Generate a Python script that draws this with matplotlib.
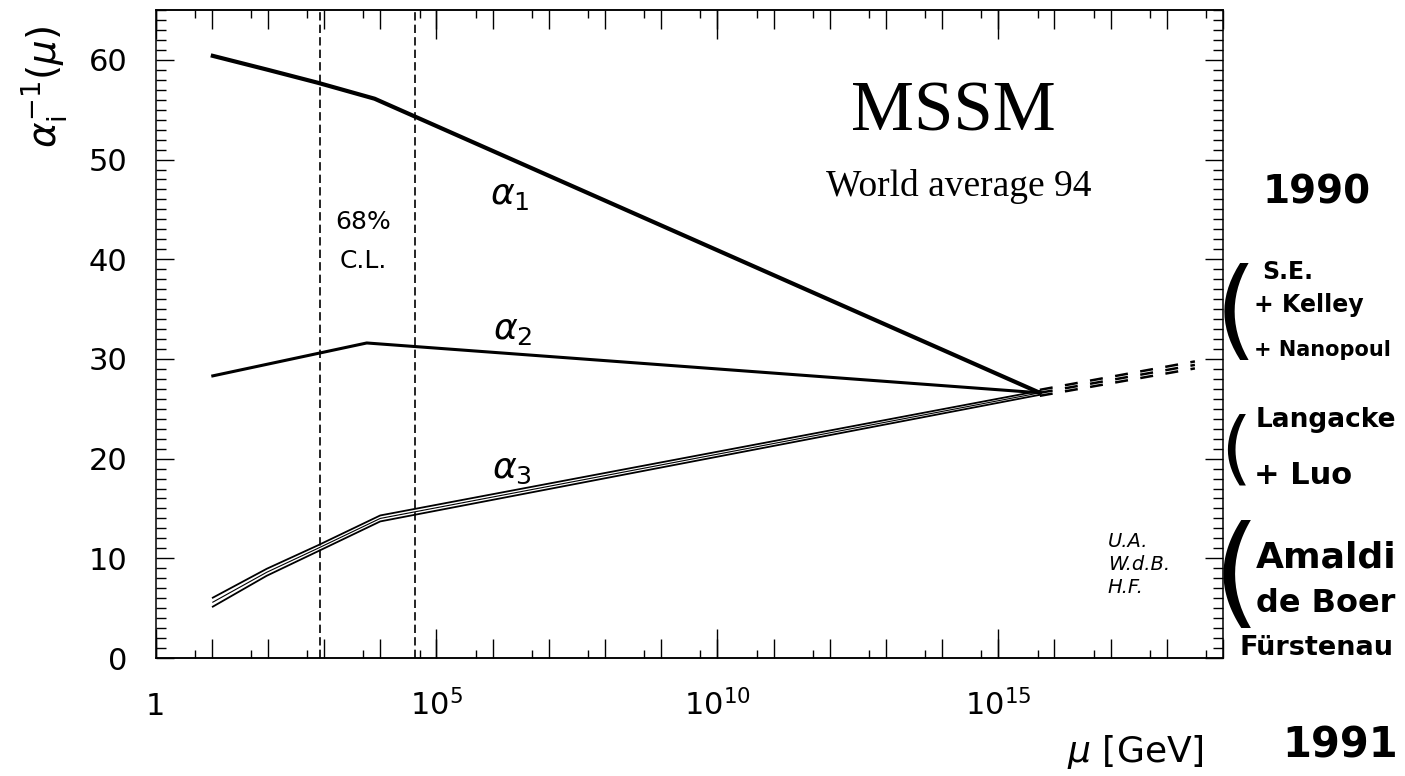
import numpy as np
import matplotlib
matplotlib.use("Agg")
import matplotlib.pyplot as plt
from matplotlib.ticker import FixedLocator, NullFormatter, MultipleLocator, LogLocator
import matplotlib.transforms as mtrans

# running couplings, x given as log10(mu / GeV)
a1_logmu = [1.02, 2.0, 2.89, 3.9, 15.74]
a1_val = [60.4, 59.0, 57.7, 56.1, 26.6]

a2_logmu = [1.02, 3.76, 15.74]
a2_val = [28.3, 31.6, 26.6]

a3_logmu = [1.02, 1.98, 2.89, 4.0, 15.74]
a3_val = [5.6, 8.6, 11.0, 14.0, 26.6]
a3_hi = [6.05, 8.95, 11.3, 14.3, 26.8]
a3_lo = [5.15, 8.25, 10.7, 13.7, 26.4]

# extrapolation above unification point
ext_logmu = [15.74, 18.5]
ext_mid = [26.6, 29.4]
ext_hi = [26.9, 29.75]
ext_lo = [26.3, 29.05]

# 68% C.L. band for the SUSY scale
cl_logmu = [2.92, 4.62]

xtick_pos = [1, 1e5, 1e10, 1e15]
xtick_lab = ['1', r'$10^{5}$', r'$10^{10}$', r'$10^{15}$']

W, H = 1405, 776
fig = plt.figure(figsize=(W / 100, H / 100), dpi=100)
ax = fig.add_axes([155.5 / W, 1 - 658 / H, (1223 - 155.5) / W, (658 - 10) / H])

def mu(lg):
    return np.power(10.0, lg)

ax.plot(mu(a1_logmu), a1_val, color='black', lw=3.0, solid_joinstyle='round')
ax.plot(mu(a2_logmu), a2_val, color='black', lw=2.2, solid_joinstyle='round')
ax.plot(mu(a3_logmu), a3_hi, color='black', lw=1.3)
ax.plot(mu(a3_logmu), a3_lo, color='black', lw=1.3)
ax.plot(mu(a3_logmu), a3_val, color='black', lw=0.8)

for ys in (ext_hi, ext_mid, ext_lo):
    ax.plot(mu(ext_logmu), ys, color='black', lw=1.8, dashes=(5.2, 5.0))

for c in cl_logmu:
    ax.axvline(mu(c), color='black', lw=1.2, dashes=(5, 2.5))

ax.set_xscale('log')
ax.set_xlim(1, 1e19)
ax.set_ylim(0, 65)

ax.xaxis.set_major_locator(FixedLocator(10.0 ** np.arange(0, 20)))
ax.xaxis.set_minor_locator(LogLocator(base=10, subs=(5,), numticks=40))
ax.xaxis.set_major_formatter(NullFormatter())
ax.xaxis.set_minor_formatter(NullFormatter())
ax.yaxis.set_major_locator(MultipleLocator(10))
ax.yaxis.set_minor_locator(MultipleLocator(1))

ax.tick_params(which='both', direction='in', top=True, right=True, width=1.0)
ax.tick_params(axis='x', which='major', length=14)
ax.tick_params(axis='x', which='minor', length=6)
ax.tick_params(axis='y', which='major', length=13, labelsize=22, pad=20)
ax.tick_params(axis='y', which='minor', length=7)
for lab in ax.get_yticklabels():
    lab.set_fontfamily('DejaVu Sans')
for s in ax.spines.values():
    s.set_linewidth(1.1)

# long ticks every five decades
for side in ('bottom', 'top'):
    sec = ax.secondary_xaxis(side)
    sec.set_xticks(xtick_pos)
    sec.xaxis.set_minor_locator(FixedLocator([]))
    sec.tick_params(direction='in', length=21, width=1.0,
                    labelbottom=False, labeltop=False)
    sec.spines[side].set_linewidth(1.1)

tr = mtrans.blended_transform_factory(ax.transData, fig.transFigure)
for p, t in zip(xtick_pos, xtick_lab):
    ax.text(p, 1 - 715 / H, t, transform=tr, ha='center', va='baseline',
            fontsize=22, family='DejaVu Sans')

fig.text(45 / W, 1 - 87 / H, r'$\alpha_{\mathrm{i}}^{-1}(\mu)$', rotation=90,
         ha='center', va='center', fontsize=28)
fig.text(1135 / W, 1 - 752 / H, r'$\mu$ [GeV]', ha='center', va='center',
         fontsize=26, family='DejaVu Sans')

ax.text(mu(14.2), 54.7, 'MSSM', ha='center', va='center', fontsize=51,
        family='Liberation Serif')
ax.text(mu(14.3), 47.3, 'World average 94', ha='center', va='center',
        fontsize=27, family='Liberation Serif')

ax.text(mu(3.7), 43.7, '68%', ha='center', va='center', fontsize=18)
ax.text(mu(3.7), 39.8, 'C.L.', ha='center', va='center', fontsize=18)

ax.text(mu(6.3), 46.4, r'$\alpha_1$', ha='center', va='center', fontsize=26)
ax.text(mu(6.35), 32.9, r'$\alpha_2$', ha='center', va='center', fontsize=26)
ax.text(mu(6.35), 19.0, r'$\alpha_3$', ha='center', va='center', fontsize=26)

for i, s in enumerate(['U.A.', 'W.d.B.', 'H.F.']):
    ax.text(mu(16.95), 11.7 - 2.3 * i, s, ha='left', va='center', fontsize=14,
            style='italic')

# handwritten notes in the margin
hw = dict(family='DejaVu Sans', weight='bold', color='black')
br = dict(family='DejaVu Sans', weight='normal', color='black')
fig.text(1317 / W, 1 - 192 / H, '1990', ha='center', va='center', fontsize=28, **hw)
fig.text(1236 / W, 1 - 316 / H, '(', ha='center', va='center', fontsize=78, **br)
fig.text(1262 / W, 1 - 272 / H, 'S.E.', ha='left', va='center', fontsize=17, **hw)
fig.text(1254 / W, 1 - 305 / H, '+ Kelley', ha='left', va='center', fontsize=17, **hw)
fig.text(1254 / W, 1 - 350 / H, '+ Nanopoul', ha='left', va='center', fontsize=15, **hw)
fig.text(1236 / W, 1 - 452 / H, '(', ha='center', va='center', fontsize=58, **br)
fig.text(1256 / W, 1 - 420 / H, 'Langacke', ha='left', va='center', fontsize=19, **hw)
fig.text(1254 / W, 1 - 475 / H, '+ Luo', ha='left', va='center', fontsize=22, **hw)
fig.text(1236 / W, 1 - 578 / H, '(', ha='center', va='center', fontsize=88, **br)
fig.text(1256 / W, 1 - 558 / H, 'Amaldi', ha='left', va='center', fontsize=26, **hw)
fig.text(1256 / W, 1 - 603 / H, 'de Boer', ha='left', va='center', fontsize=23, **hw)
fig.text(1240 / W, 1 - 648 / H, 'Fürstenau', ha='left', va='center', fontsize=19.5, **hw)
fig.text(1340 / W, 1 - 745 / H, '1991', ha='center', va='center', fontsize=30, **hw)

fig.savefig('out.png', dpi=100)
